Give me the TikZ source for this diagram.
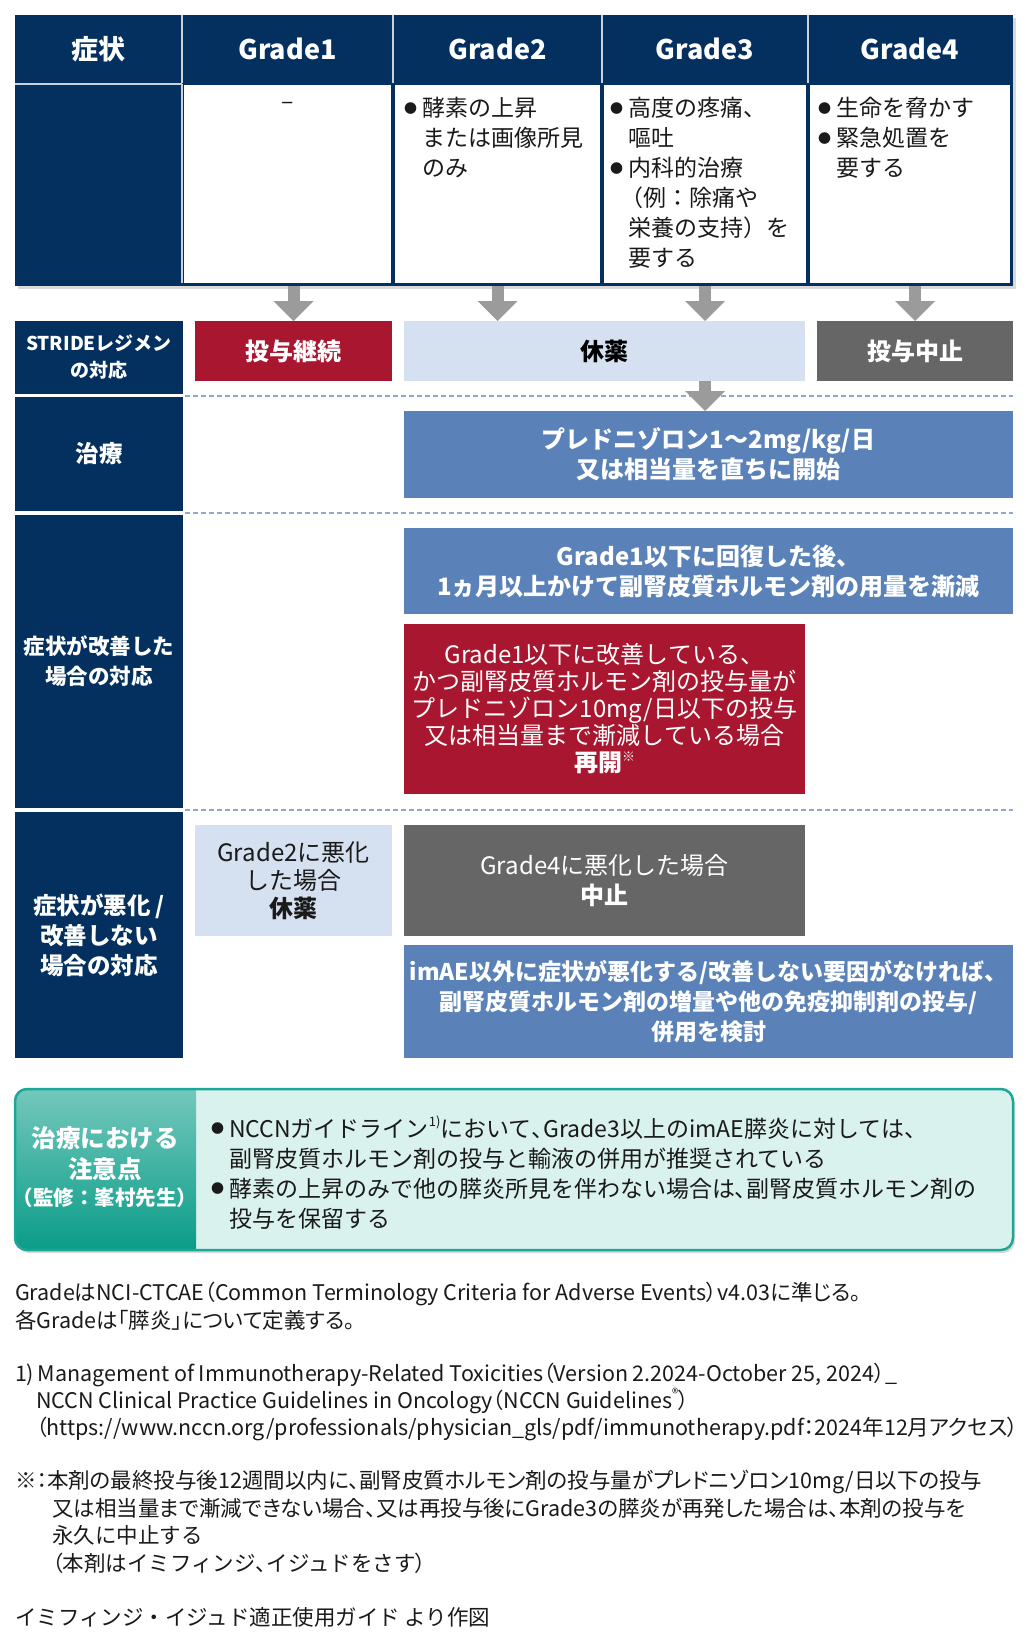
\documentclass[tikz,border=0pt]{standalone}
\usepackage{fontspec}
\setmainfont{Noto Sans CJK JP}
\newfontfamily\pfont{Noto Sans CJK JP}[RawFeature=+palt]
\usetikzlibrary{arrows.meta,shadows}
\definecolor{navy}{HTML}{03305F}
\definecolor{myred}{HTML}{A8172F}
\definecolor{lblue}{HTML}{D5E0F0}
\definecolor{mgray}{HTML}{666666}
\definecolor{mblue}{HTML}{5A82B8}
\definecolor{agray}{HTML}{9B9B9B}
\definecolor{dashc}{HTML}{8EA8CE}
\definecolor{hsep}{HTML}{C9D1DD}
\definecolor{tealA}{HTML}{74C8BC}
\definecolor{tealB}{HTML}{0A9C88}
\definecolor{tealL}{HTML}{DAF2EE}
\definecolor{tealE}{HTML}{1BA897}
\definecolor{ink}{HTML}{1A1A1A}
\newcommand\fs[2]{\fontsize{#1}{#2}\selectfont}
\newcommand\bul{\makebox[18pt][l]{\raisebox{3.7pt}{\fs{13}{13}●}}}
\newcommand\ind{\hspace*{18pt}}
\newcommand\sups[1]{\raisebox{0.45em}{\fs{13}{13}#1}}
\tikzset{
  every node/.style={inner sep=0pt, outer sep=0pt},
  box/.style={rectangle, inner sep=0pt, align=center},
  bigarrow/.style={draw=agray, line width=12pt, -{Triangle[width=40pt,length=20pt,line width=0pt]}},
  sepline/.style={dashc, line width=2.5pt, dash pattern=on 5pt off 3pt},
  lab/.style={box, fill=navy, text=white, minimum width=168pt},
  hd/.style={text=white, font=\bfseries\fs{27}{30}},
  cell/.style={anchor=west, align=left, text=ink, font=\fs{23}{30}},
  note/.style={anchor=base west, text=ink, font=\pfont\fs{21.5}{27}},
  notef/.style={anchor=base west, text=ink, font=\fs{21.5}{27}},
  wcell/.style={fill=white, minimum height=198pt},
}
\begin{document}
\begin{tikzpicture}[x=1pt,y=-1pt]
\useasboundingbox (0,0) rectangle (1029,1641);
\fill[white] (0,0) rectangle (1029,1641);

% ---------- table ----------
\node[fill=navy, minimum width=998pt, minimum height=271pt,
  drop shadow={fill=black, opacity=0.15, shadow xshift=2.5pt, shadow yshift=-2.5pt}] (tbl) at (514,150.5) {};
\node[wcell, minimum width=207pt] (c1) at (287.5,184) {};
\node[wcell, minimum width=205pt] (c2) at (497.5,184) {};
\node[wcell, minimum width=202pt] (c3) at (705,184) {};
\node[wcell, minimum width=200pt] (c4) at (910,184) {};
\foreach \xx in {182,393,602,808} \draw[hsep, line width=2pt] (\xx,15) -- (\xx,83);
\draw[hsep, line width=2pt] (15,84) -- (182,84);
\draw[hsep, line width=1.5pt] (182,84) -- (182,283);

\node[hd] (h0) at (98,49) {症状};
\node[hd] (h1) at (287.5,49) {Grade1};
\node[hd] (h2) at (497.5,49) {Grade2};
\node[hd] (h3) at (705,49) {Grade3};
\node[hd] (h4) at (910,49) {Grade4};

\node[text=ink, font=\fs{23}{30}] (t1) at (287.5,106) {–};
\node[cell] (t2) at (404,138) {\bul 酵素の上昇\\\ind または画像所見\\\ind のみ};
\node[cell] (t3) at (610,183) {\bul 高度の疼痛、\\\ind 嘔吐\\\bul 内科的治療\\\ind\hspace*{-8pt}（例：除痛や\\\ind 栄養の支持）を\\\ind 要する};
\node[cell] (t4) at (818,138) {\bul 生命を脅かす\\\bul 緊急処置を\\\ind 要する};

% ---------- label column ----------
\node[lab, minimum height=73pt, font=\bfseries\fs{19}{27}] (l1) at (99,357.5) {STRIDEレジメン\\の対応};
\node[lab, minimum height=114pt, font=\bfseries\fs{23.5}{30}] (l2) at (99,454) {治療};
\node[lab, minimum height=293pt, font=\bfseries\fs{21.5}{30}] (l3) at (99,661.5) {症状が改善した\\場合の対応};
\node[lab, minimum height=246pt, font=\bfseries\fs{23.5}{30}] (l4) at (99,935) {症状が悪化 /\\改善しない\\場合の対応};

% ---------- separators ----------
\draw[sepline] (185,396) -- (1013,396);
\draw[sepline] (185,513) -- (1013,513);
\draw[sepline] (185,810) -- (1013,810);

% ---------- boxes ----------
\node[box, fill=myred, text=white, minimum width=197pt, minimum height=60pt, font=\bfseries\fs{24}{30}] (keizoku) at (293.5,351) {投与継続};
\node[box, fill=lblue, text=black, minimum width=401pt, minimum height=60pt, font=\bfseries\fs{24}{30}] (kyuyaku) at (604.5,351) {休薬};
\node[box, fill=mgray, text=white, minimum width=196pt, minimum height=60pt, font=\bfseries\fs{24}{30}] (chushi) at (915,351) {投与中止};
\node[box, fill=mblue, text=white, minimum width=609pt, minimum height=87pt, font=\bfseries\fs{24}{30}] (pred) at (708.5,454.5) {プレドニゾロン1～2mg/kg/日\\又は相当量を直ちに開始};
\node[box, fill=mblue, text=white, minimum width=609pt, minimum height=86pt, font=\bfseries\fs{24}{30}] (kaifuku) at (708.5,571) {Grade1以下に回復した後、\\1ヵ月以上かけて副腎皮質ホルモン剤の用量を漸減};
\node[box, fill=myred, text=white, minimum width=401pt, minimum height=170pt, font=\fs{24}{27}] (saikai) at (604.5,709) {Grade1以下に改善している、\\かつ副腎皮質ホルモン剤の投与量が\\プレドニゾロン10mg/日以下の投与\\又は相当量まで漸減している場合\\\textbf{再開}\sups{※}};
\node[box, fill=lblue, text=ink, minimum width=197pt, minimum height=111pt, font=\fs{24}{28}] (g2akka) at (293.5,880.5) {Grade2に悪化\\した場合\\\textbf{休薬}};
\node[box, fill=mgray, text=white, minimum width=401pt, minimum height=111pt, font=\fs{24}{30}] (g4akka) at (604.5,880.5) {Grade4に悪化した場合\\\textbf{中止}};
\node[box, fill=mblue, text=white, minimum width=609pt, minimum height=113pt, font=\bfseries\fs{23}{30}] (imae) at (708.5,1001.5) {imAE以外に症状が悪化する/改善しない要因がなければ、\\副腎皮質ホルモン剤の増量や他の免疫抑制剤の投与/\\併用を検討};

% ---------- arrows ----------
\draw[bigarrow] (tbl.south -| keizoku.north) -- (keizoku.north);
\draw[bigarrow] (tbl.south -| c2.south) -- (c2.south |- kyuyaku.north);
\draw[bigarrow] (tbl.south -| c3.south) -- (c3.south |- kyuyaku.north);
\draw[bigarrow] (tbl.south -| chushi.north) -- (chushi.north);
\draw[bigarrow] (kyuyaku.south -| c3.south) -- (c3.south |- pred.north);

% ---------- teal box ----------
\fill[tealL, rounded corners=12pt, drop shadow={fill=black, opacity=0.15, shadow xshift=2pt, shadow yshift=-3pt}] (15,1089) rectangle (1013,1250);
\begin{scope}
\clip[rounded corners=12pt] (15,1089) rectangle (1013,1250);
\shade[top color=tealA, bottom color=tealB] (15,1089) rectangle (196,1250);
\end{scope}
\draw[tealE, line width=2.5pt, rounded corners=12pt] (15,1089) rectangle (1013,1250);
\node[text=white, font=\bfseries\fs{24.5}{30}] (tl1) at (105,1138) {治療における};
\node[text=white, font=\bfseries\fs{24.5}{30}] (tl2) at (105,1169) {注意点};
\node[text=white, font=\bfseries\fs{20.5}{26}] (tl3) at (105,1198) {（監修：峯村先生）};
\node[cell] (tr) at (211,1172.5) {\bul NCCNガイドライン\sups{1)}において{\pfont 、}Grade3以上のimAE膵炎に対しては、\\\ind 副腎皮質ホルモン剤の投与と輸液の併用が推奨されている\\\bul 酵素の上昇のみで他の膵炎所見を伴わない場合は{\pfont 、}副腎皮質ホルモン剤の\\\ind 投与を保留する};

% ---------- notes ----------
\node[note] (n1) at (15,1300) {GradeはNCI-CTCAE（Common Terminology Criteria for Adverse Events）v4.03に準じる。};
\node[note] (n2) at (15,1328) {各Gradeは「膵炎」について定義する。};
\node[note] (n3) at (15,1381) {1)\,Management of Immunotherapy-Related Toxicities（Version 2.2024-October 25, 2024）\_};
\node[note] (n4) at (36,1408) {NCCN Clinical Practice Guidelines in Oncology（NCCN Guidelines\sups{®}）};
\node[note] (n5) at (36,1435) {（https://www.nccn.org/professionals/physician\_gls/pdf/immunotherapy.pdf：2024年12月アクセス）};
\node[note] (n6) at (15,1488) {※：本剤の最終投与後12週間以内に、副腎皮質ホルモン剤の投与量がプレドニゾロン10mg/日以下の投与};
\node[note] (n7) at (52,1516) {又は相当量まで漸減できない場合、又は再投与後にGrade3の膵炎が再発した場合は、本剤の投与を};
\node[notef] (n8) at (52,1543) {永久に中止する};
\node[notef] (n9) at (52,1571) {{\pfont （}本剤はイミフィンジ{\pfont 、}イジュドをさす{\pfont ）}};
\node[notef] (n10) at (15,1625) {イミフィンジ・イジュド適正使用ガイド より作図};
\end{tikzpicture}
\end{document}
